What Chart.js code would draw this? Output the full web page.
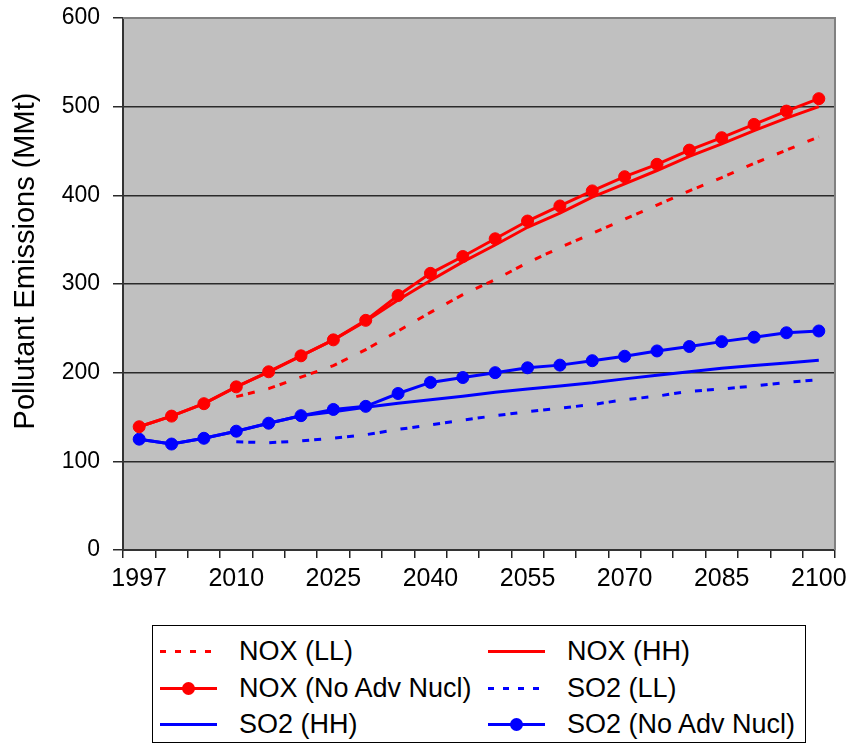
<!DOCTYPE html>
<html>
<head>
<meta charset="utf-8">
<script src="https://cdn.jsdelivr.net/npm/chart.js@4.4.1/dist/chart.umd.min.js"></script>
<style>
    html, body { margin: 0; padding: 0; background: #fff; }
    #wrap { position: relative; width: 853px; height: 744px; font-family: 'Liberation Sans', Arial, sans-serif; }
    #plot { position: absolute; left: 0; top: 0; }
    #legend { position: absolute; left: 152px; top: 625px; width: 652px; height: 116px; border: 1px solid #000; background: #fff; }
    .item { position: absolute; display: flex; align-items: center; height: 36px; font-size: 27px; color: #000; white-space: nowrap; }
    .swatch { position: relative; width: 57px; height: 3px; margin-right: 22px; }
    .swatch .dot { position: absolute; left: 22px; top: -5px; width: 13px; height: 13px; border-radius: 50%; }
</style>
</head>
<body>
<div id="wrap">
    <canvas id="plot" width="853" height="610"></canvas>
    <div id="legend"></div>
</div>
<script>
// categories: 1997, 2000, 2005, then every 5 years to 2100
const years = ['1997', '2000', '2005', '2010', '2015', '2020', '2025', '2030', '2035', '2040', '2045',
    '2050', '2055', '2060', '2065', '2070', '2075', '2080', '2085', '2090', '2095', '2100'];

// emissions in MMt
const noxLL = [null, null, null, 173, 182, 195, 208, 226, 247, 268, 288, 305, 324, 341, 357, 373, 389, 405, 420, 436, 451, 466];
const noxHH = [139, 151, 165, 184, 201, 219, 237, 258, 282, 304, 325, 344, 364, 380, 398, 413, 428, 444, 458, 473, 487, 500];
const noxNoAdv = [139, 151, 165, 184, 201, 219, 237, 259, 287, 312, 331, 351, 371, 388, 405, 421, 435, 451, 465, 480, 495, 509];
const so2LL = [null, null, null, 122, 121, 123, 126, 130, 136, 141, 146.5, 151.5, 156, 160, 164, 169.5, 173.5, 179, 181.5, 185, 189, 192];
const so2HH = [125, 119.5, 126, 134, 143, 151.5, 156, 161, 165.5, 169.5, 173.5, 178, 181.5, 185, 188.5, 193, 197, 201, 205, 208, 211, 214];
const so2NoAdv = [125, 119.5, 126, 134, 143, 151.5, 158.5, 162, 176.5, 189, 194.5, 200, 205.5, 208.5, 213.5, 218.5, 224.5, 229.5, 235, 240, 245, 247];

const yTicks = [0, 100, 200, 300, 400, 500, 600];
const yTitle = 'Pollutant Emissions (MMt)';

const RED = '#ff0000';
const BLUE = '#0000ff';

const series = [
    { label: 'NOX (LL)', data: noxLL, color: RED, dashed: true, marker: false },
    { label: 'NOX (HH)', data: noxHH, color: RED, dashed: false, marker: false },
    { label: 'NOX (No Adv Nucl)', data: noxNoAdv, color: RED, dashed: false, marker: true },
    { label: 'SO2 (LL)', data: so2LL, color: BLUE, dashed: true, marker: false },
    { label: 'SO2 (HH)', data: so2HH, color: BLUE, dashed: false, marker: false },
    { label: 'SO2 (No Adv Nucl)', data: so2NoAdv, color: BLUE, dashed: false, marker: true }
];

const FONT = "'Liberation Sans', Arial, sans-serif";
Chart.defaults.font.family = FONT;
Chart.defaults.color = '#000';

// gray plot area with a lighter frame on top and right, plus the rotated axis title
const plotFrame = {
    id: 'plotFrame',
    beforeDraw(chart) {
        const { ctx, chartArea: { left, top, right, bottom } } = chart;
        ctx.save();
        ctx.fillStyle = '#c0c0c0';
        ctx.fillRect(left, top, right - left, bottom - top);
        ctx.restore();
    },
    beforeDatasetsDraw(chart) {
        const { ctx, chartArea: { left, top, right, bottom } } = chart;
        ctx.save();
        ctx.strokeStyle = '#808080';
        ctx.lineWidth = 2;
        ctx.beginPath();
        ctx.moveTo(left, top);
        ctx.lineTo(right, top);
        ctx.lineTo(right, bottom);
        ctx.stroke();
        ctx.restore();
    },
    afterDraw(chart) {
        const { ctx } = chart;
        ctx.save();
        ctx.translate(26, 261);
        ctx.rotate(-Math.PI / 2);
        ctx.font = `29px ${FONT}`;
        ctx.fillStyle = '#000';
        ctx.textAlign = 'center';
        ctx.textBaseline = 'middle';
        ctx.fillText(yTitle, 0, 0);
        ctx.restore();
    }
};

const datasets = series.map(s => ({
    label: s.label,
    data: s.data,
    borderColor: s.color,
    backgroundColor: s.color,
    borderWidth: 3,
    borderDash: s.dashed ? [7, 5, 7, 14] : [],
    pointRadius: s.marker ? 6 : 0,
    pointHoverRadius: s.marker ? 6 : 0,
    pointBorderWidth: 1,
    tension: 0,
    spanGaps: false,
    order: s.marker ? 0 : (s.dashed ? 2 : 1)
}));

new Chart(document.getElementById('plot').getContext('2d'), {
    type: 'line',
    data: { labels: years, datasets },
    plugins: [plotFrame],
    options: {
        responsive: false,
        animation: false,
        devicePixelRatio: 1,
        layout: { padding: { top: 18, right: 17, left: 0, bottom: 0 } },
        plugins: {
            legend: { display: false },
            tooltip: { enabled: false }
        },
        scales: {
            x: {
                type: 'category',
                offset: true,
                grid: { offset: true, drawOnChartArea: false, drawTicks: true, tickLength: 8, color: '#222', lineWidth: 1.5 },
                border: { display: true, color: '#333', width: 2 },
                ticks: {
                    autoSkip: false,
                    maxRotation: 0,
                    padding: 6,
                    font: { size: 25 },
                    callback: (v, i) => (i % 3 === 0 ? years[i] : '')
                },
                afterFit: scale => { scale.height = 60; }
            },
            y: {
                min: yTicks[0],
                max: yTicks[yTicks.length - 1],
                afterBuildTicks: scale => { scale.ticks = yTicks.map(v => ({ value: v })); },
                grid: { color: '#2a2a2a', lineWidth: 1.5, tickLength: 10, drawTicks: true },
                border: { color: '#333', width: 2 },
                ticks: { padding: 13, font: { size: 23 } },
                afterFit: scale => {
                    scale.width = 123;
                    scale.paddingTop = 0;
                    scale.paddingBottom = 0;
                }
            }
        }
    }
});

// legend in two columns below the plot
const legendCols = [7, 335];
const legendRows = [7, 44, 80];
document.getElementById('legend').innerHTML = series.map((s, i) => {
    const line = s.dashed
        ? `background: repeating-linear-gradient(90deg, ${s.color} 0 6px, transparent 6px 15px);`
        : `background: ${s.color};`;
    const dot = s.marker ? `<span class="dot" style="background:${s.color}"></span>` : '';
    return `<div class="item" style="left:${legendCols[i % 2]}px; top:${legendRows[Math.floor(i / 2)]}px">
        <span class="swatch" style="${line}">${dot}</span>${s.label}</div>`;
}).join('');
</script>
</body>
</html>
